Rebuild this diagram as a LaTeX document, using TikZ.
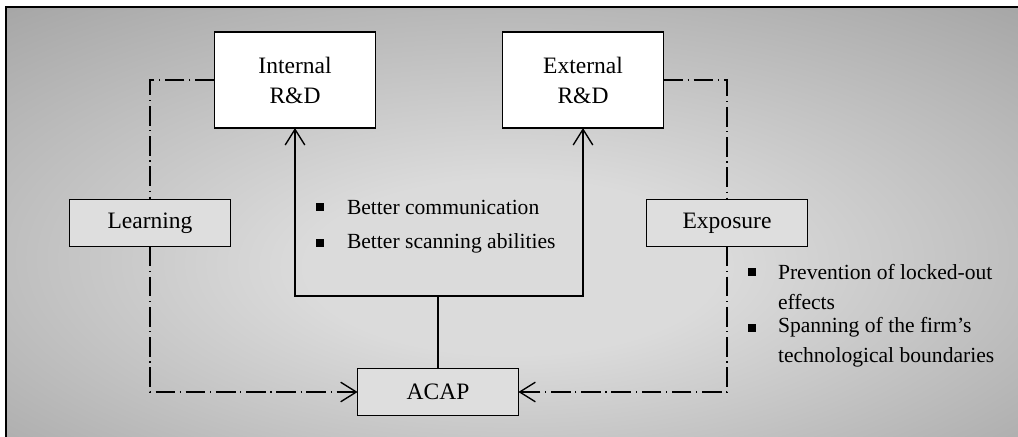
\documentclass[tikz,border=0pt]{standalone}
\usepackage{fontspec}
\setmainfont{Liberation Serif}
\usetikzlibrary{arrows.meta}
\definecolor{bgdark}{gray}{0.62}
\definecolor{bgmid}{gray}{0.74}
\definecolor{bglight}{gray}{0.86}
\definecolor{boxgray}{gray}{0.87}
\pgfdeclareradialshading{bgshade}{\pgfpoint{0bp}{-6bp}}{color(0bp)=(bglight); color(10bp)=(bglight); color(26bp)=(bgmid); color(42bp)=(bgdark); color(80bp)=(bgdark)}

\begin{document}
\begin{tikzpicture}[x=0.51pt,y=-0.51pt,
    every node/.style={font=\fontsize{12}{15.3}\selectfont, outer sep=0pt},
    rdbox/.style={draw, line width=0.8pt, fill=white, minimum width=82pt, minimum height=49pt, align=center},
    graybox/.style={draw, line width=0.8pt, fill=boxgray, minimum width=82pt, minimum height=24pt},
    bullet/.style={fill=black, minimum size=3.8pt, inner sep=0pt},
    item/.style={font=\fontsize{11}{15.3}\selectfont, anchor=west, align=left, inner sep=0pt},
    dashdot/.style={line width=0.7pt, dash pattern=on 10pt off 2.4pt on 0.6pt off 2.4pt},
    tip/.style={-{Straight Barb[length=8pt,width=10pt,line width=0.7pt]}}]
    \useasboundingbox (0,0) rectangle (1018,437);
    \shade[shading=bgshade] (6,7) rectangle (1018,437);
    \draw[line width=1pt] (6,437) -- (6,7) -- (1018,7);

    \node[rdbox] (int) at (295,80) {Internal\\R\&D};
    \node[rdbox] (ext) at (583,80) {External\\R\&D};
    \node[graybox] (learn) at (150,223) {Learning};
    \node[graybox] (expo) at (727,223) {Exposure};
    \node[graybox] (acap) at (438,392) {ACAP};
    \coordinate (join) at (438,296);

    \node[bullet] (b1) at (320,207) {};
    \node[bullet] (b2) at (320,243) {};
    \node[item] (t1) at (347,207) {Better communication};
    \node[item] (t2) at (347,243) {Better scanning abilities};
    \node[bullet] (b3) at (752,272) {};
    \node[bullet] (b4) at (752,328) {};
    \node[item] (t3) at (778,287) {Prevention of locked-out\\effects};
    \node[item] (t4) at (778,342.5) {Spanning of the firm’s\\technological boundaries};

    \draw[line width=0.7pt] (acap.north) -- (join);
    \draw[line width=0.7pt, tip] (join) -| (int.south);
    \draw[line width=0.7pt, tip] (join) -| (ext.south);

    \draw[dashdot] (int.west) -| (learn.north);
    \draw[dashdot, tip] (learn.south) |- (acap.west);
    \draw[dashdot] (ext.east) -| (expo.north);
    \draw[dashdot, tip] (expo.south) |- (acap.east);
\end{tikzpicture}
\end{document}
